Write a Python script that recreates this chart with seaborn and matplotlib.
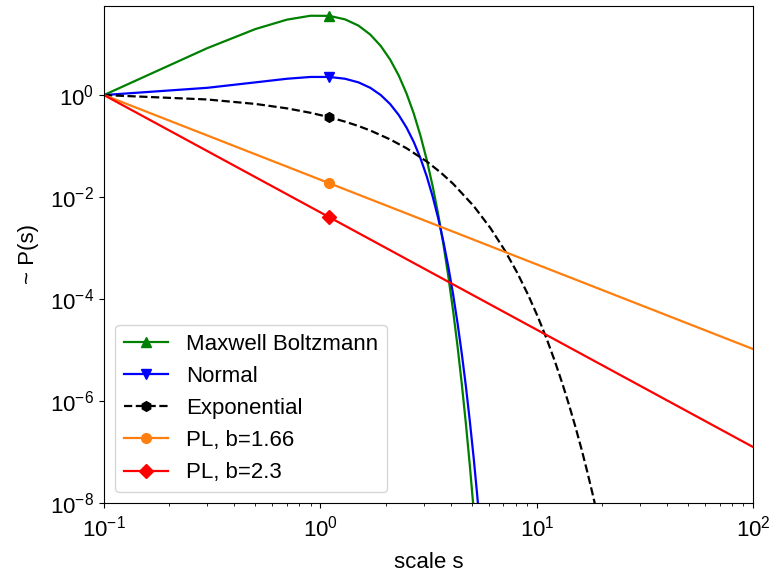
import matplotlib
matplotlib.use("Agg")
import matplotlib.pyplot as plt
from matplotlib.ticker import NullLocator, FixedLocator
import pandas as pd
import seaborn as sns

# scale grid shared by the two bell-shaped curves
s_bell = [0.1, 0.3, 0.5, 0.7, 0.9, 1.1, 1.3, 1.5, 1.7, 1.9, 2.1, 2.3, 2.5, 2.7,
          2.9, 3.1, 3.3, 3.5, 3.7, 3.9, 4.1, 4.3, 4.5, 4.7, 4.9, 5.1, 5.3, 5.5]
p_maxwell = [1.0, 8.29, 19.6, 30.0, 35.8, 35.6, 30.4, 22.9, 15.3, 9.16, 4.95,
             2.42, 1.07, 0.433, 0.159, 0.0535, 0.0164, 4.61e-3, 1.19e-3,
             2.79e-4, 6.03e-5, 1.20e-5, 2.17e-6, 3.63e-7, 5.55e-8, 7.82e-9,
             1.01e-9, 1.2e-10]
p_normal = [1.0, 1.386, 1.771, 2.085, 2.262, 2.262, 2.085, 1.771, 1.386, 1.0,
            0.665, 0.407, 0.230, 0.120, 0.0574, 0.0254, 0.0103, 3.88e-3,
            1.34e-3, 4.28e-4, 1.26e-4, 3.41e-5, 8.52e-6, 1.96e-6, 4.11e-7,
            8.12e-8, 1.46e-8, 2.43e-9]

s_exp = [0.1, 0.3, 0.5, 0.7, 0.9, 1.1, 1.3, 1.5, 1.7, 2.1, 2.5, 3.1, 3.6, 4.1,
         5.1, 6.1, 7.1, 8.1, 9.1, 10.1, 11.1, 12.1, 13.1, 14.1, 15.1, 16.1,
         17.1, 18.1, 19.1]
p_exp = [1.0, 0.819, 0.670, 0.549, 0.449, 0.368, 0.301, 0.247, 0.202, 0.135,
         0.0907, 0.0498, 0.0302, 0.0183, 6.74e-3, 2.48e-3, 9.12e-4, 3.35e-4,
         1.23e-4, 4.54e-5, 1.67e-5, 6.14e-6, 2.26e-6, 8.32e-7, 3.06e-7,
         1.13e-7, 4.14e-8, 1.52e-8, 5.60e-9]

s_pl = [0.1, 1.1, 100.0]
p_pl_166 = [1.0, 0.0187, 1.05e-5]
p_pl_23 = [1.0, 4.03e-3, 1.26e-7]

y_ticks = [1e0, 1e-2, 1e-4, 1e-6, 1e-8]

plt.rcParams["font.family"] = ["Liberation Sans", "DejaVu Sans"]
plt.rcParams["mathtext.default"] = "regular"

fig = plt.figure(figsize=(7.69, 5.73), dpi=100)
ax = fig.add_axes([0.1352, 0.1216, 0.8444, 0.8685])
ax.set_xscale("log")
ax.set_yscale("log")

series = [
    (s_bell, p_maxwell, "Maxwell Boltzmann", "green", "^", "-", 5),
    (s_bell, p_normal, "Normal", "blue", "v", "-", 5),
    (s_exp, p_exp, "Exponential", "black", "h", "--", 5),
    (s_pl, p_pl_166, "PL, b=1.66", "#ff7f0e", "o", "-", 1),
    (s_pl, p_pl_23, "PL, b=2.3", "red", "D", "-", 1),
]

for xs, ys, name, col, mk, ls, mark_at in series:
    df = pd.DataFrame({"s": xs, "p": ys})
    sns.lineplot(data=df, x="s", y="p", ax=ax, color=col, marker=mk,
                 linestyle=ls, linewidth=1.6, markersize=7,
                 markeredgecolor=col, markeredgewidth=1.0,
                 markevery=[mark_at], estimator=None, label=name,
                 legend=False)

ax.set_xlim(0.1, 100)
ax.set_ylim(1e-8, 56.4)
ax.yaxis.set_major_locator(FixedLocator(y_ticks))
ax.yaxis.set_minor_locator(NullLocator())

ax.set_xlabel("scale s", fontsize=16, labelpad=8)
ax.set_ylabel("~ P(s)", fontsize=16, labelpad=8)
ax.tick_params(axis="both", which="major", labelsize=16)
ax.tick_params(axis="x", which="major", pad=5)

ax.legend(loc="lower left", fontsize=16)

fig.savefig("out.png", dpi=100)
